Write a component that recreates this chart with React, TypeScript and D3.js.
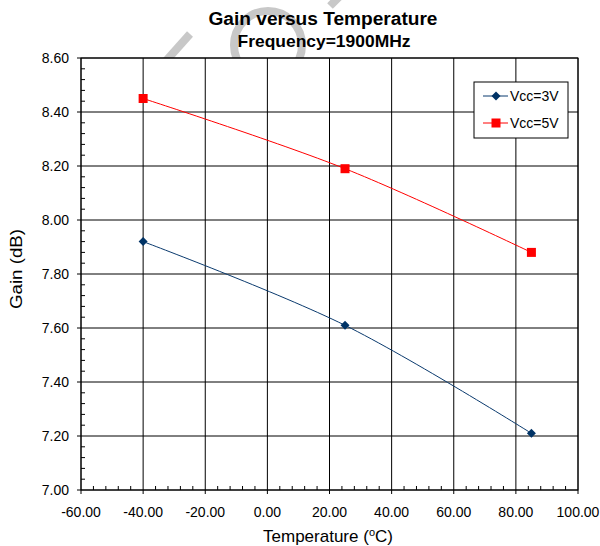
import React from "react";
import * as d3 from "d3";

const temps = [-40, 25, 85];
const vcc3 = [7.92, 7.61, 7.21];
const vcc5 = [8.45, 8.19, 7.88];
const xTicks = [-60, -40, -20, 0, 20, 40, 60, 80, 100];
const yTicks = [7.0, 7.2, 7.4, 7.6, 7.8, 8.0, 8.2, 8.4, 8.6];
const seriesNames = ["Vcc=3V", "Vcc=5V"];
const seriesColors = ["#0a3a6e", "#ff0000"];

const W = 600, H = 546;
const L = 81, R = 578, T = 58, B = 490;

export default function App() {
  const x = d3.scaleLinear().domain([-60, 100]).range([L, R]);
  const y = d3.scaleLinear().domain([7.0, 8.6]).range([B, T]);
  const line = d3
    .line<[number, number]>()
    .x((d) => x(d[0]))
    .y((d) => y(d[1]))
    .curve(d3.curveCatmullRom.alpha(0.5));
  const xMinor = d3.range(-60, 100.001, 4).filter((v) => Math.abs(v % 20) > 0.001);
  const yMinor = d3.range(7.0, 8.6001, 0.04).filter((v) => Math.abs(Math.round(v * 100) % 20) > 0.5);
  const data = [vcc3, vcc5];
  const font = "'Liberation Sans', Arial, sans-serif";

  const marker = (i: number, cx: number, cy: number, key: string) =>
    i === 0 ? (
      <path key={key} d={`M${cx},${cy - 4.5}L${cx + 4.5},${cy}L${cx},${cy + 4.5}L${cx - 4.5},${cy}Z`} fill="#003366" />
    ) : (
      <rect key={key} x={cx - 4.5} y={cy - 4.5} width={9} height={9} fill="#ff0000" />
    );

  return (
    <svg width={W} height={H} style={{ position: "absolute", left: 0, top: 0 }} fontFamily={font}>
      <rect width={W} height={H} fill="#fff" />
      {/* watermark fragments */}
      <g stroke="#c8c8c8" fill="none" strokeWidth={8}>
        <circle cx={268} cy={45} r={34} />
        <line x1={165} y1={62} x2={190} y2={34} />
        <line x1={330} y1={6} x2={350} y2={-14} />
      </g>
      <text x={323} y={25} textAnchor="middle" fontSize={18} fontWeight="bold" textLength={229} lengthAdjust="spacingAndGlyphs">Gain versus Temperature</text>
      <text x={324} y={46.5} textAnchor="middle" fontSize={17} fontWeight="bold" textLength={173} lengthAdjust="spacingAndGlyphs">Frequency=1900MHz</text>
      <rect x={L} y={T} width={R - L} height={B - T} fill="#fff" />
      {/* grid */}
      {xTicks.map((v) => (
        <line key={"gx" + v} x1={x(v)} x2={x(v)} y1={T} y2={B} stroke="#000" strokeWidth={1} />
      ))}
      {yTicks.map((v) => (
        <line key={"gy" + v} x1={L} x2={R} y1={y(v)} y2={y(v)} stroke="#000" strokeWidth={1} />
      ))}
      <rect x={L} y={T} width={R - L} height={B - T} fill="none" stroke="#000" strokeWidth={1} />
      {/* minor ticks */}
      {xMinor.map((v) => (
        <line key={"mx" + v} x1={x(v)} x2={x(v)} y1={B} y2={B - 4} stroke="#000" />
      ))}
      {yMinor.map((v) => (
        <line key={"my" + v} x1={L} x2={L + 4} y1={y(v)} y2={y(v)} stroke="#000" />
      ))}
      {/* major ticks outside */}
      {xTicks.map((v) => (
        <line key={"tx" + v} x1={x(v)} x2={x(v)} y1={B} y2={B + 4} stroke="#000" />
      ))}
      {yTicks.map((v) => (
        <line key={"ty" + v} x1={L - 4} x2={L} y1={y(v)} y2={y(v)} stroke="#000" />
      ))}
      {/* tick labels */}
      {xTicks.map((v) => (
        <text key={"lx" + v} x={x(v)} y={517} textAnchor="middle" fontSize={14}>{v.toFixed(2)}</text>
      ))}
      {yTicks.map((v) => (
        <text key={"ly" + v} x={69} y={y(v) + 5} textAnchor="end" fontSize={14}>{v.toFixed(2)}</text>
      ))}
      {/* axis titles */}
      <text x={328} y={542} textAnchor="middle" fontSize={17}>
        Temperature (<tspan dy={-6} fontSize={11}>o</tspan><tspan dy={6}>C)</tspan>
      </text>
      <text transform={`translate(22,269) rotate(-90)`} textAnchor="middle" fontSize={16} textLength={80} lengthAdjust="spacingAndGlyphs">Gain (dB)</text>
      {/* series */}
      {data.map((vals, i) => (
        <g key={"s" + i}>
          <path d={line(temps.map((t, j) => [t, vals[j]] as [number, number])) || ""} fill="none" stroke={seriesColors[i]} strokeWidth={1} />
          {temps.map((t, j) => marker(i, x(t), y(vals[j]), "m" + i + j))}
        </g>
      ))}
      {/* legend */}
      <rect x={474} y={82} width={94} height={56} fill="#fff" stroke="#000" strokeWidth={1} />
      {seriesNames.map((n, i) => (
        <g key={"lg" + i}>
          <line x1={483} x2={508} y1={96 + i * 27} y2={96 + i * 27} stroke={seriesColors[i]} />
          {marker(i, 496, 96 + i * 27, "lm" + i)}
          <text x={510} y={101 + i * 27} fontSize={14}>{n}</text>
        </g>
      ))}
    </svg>
  );
}
